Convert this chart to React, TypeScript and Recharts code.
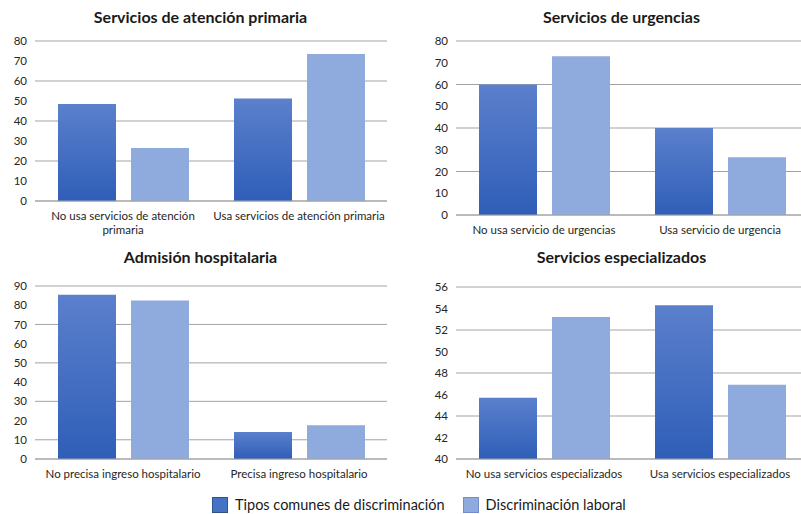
import React from "react";
import { Bar, BarChart, CartesianGrid, XAxis, YAxis } from "recharts";

const seriesNames = ["Tipos comunes de discriminación", "Discriminación laboral"];

const primariaCats = ["No usa servicios de atención primaria", "Usa servicios de atención primaria"];
const primariaComunes = [48.5, 51.2];
const primariaLaboral = [26.5, 73.5];

const urgenciasCats = ["No usa servicio de urgencias", "Usa servicio de urgencia"];
const urgenciasComunes = [60, 40];
const urgenciasLaboral = [73, 26.6];

const hospitalCats = ["No precisa ingreso hospitalario", "Precisa ingreso hospitalario"];
const hospitalComunes = [85.4, 14.1];
const hospitalLaboral = [82.5, 17.6];

const especialCats = ["No usa servicios especializados", "Usa servicios especializados"];
const especialComunes = [45.7, 54.3];
const especialLaboral = [53.2, 46.9];

const ticks80 = [0, 10, 20, 30, 40, 50, 60, 70, 80];
const ticks90 = [0, 10, 20, 30, 40, 50, 60, 70, 80, 90];
const ticks56 = [40, 42, 44, 46, 48, 50, 52, 54, 56];

const FONT = "Lato, 'Open Sans', sans-serif";
const TICK_SIZE = 11.5;
const DARK_TOP = "#5b80cc";
const DARK_BOTTOM = "#2f5eb8";
const LIGHT = "#8faadc";
const GRID = "#a3a3a3";

function build(cats: string[], a: number[], b: number[]) {
  return cats.map((name, i) => ({ name, comunes: a[i], laboral: b[i] }));
}

let ctx: CanvasRenderingContext2D | null = null;
function wrap(label: string, maxWidth: number): string[] {
  if (!ctx) ctx = document.createElement("canvas").getContext("2d");
  if (!ctx) return [label];
  ctx.font = `${TICK_SIZE}px ${FONT}`;
  const lines: string[] = [];
  let cur = "";
  for (const w of label.split(" ")) {
    const next = cur ? `${cur} ${w}` : w;
    if (cur && ctx.measureText(next).width > maxWidth) {
      lines.push(cur);
      cur = w;
    } else {
      cur = next;
    }
  }
  if (cur) lines.push(cur);
  return lines;
}

const WrapTick = (props: any) => {
  const { x, y, payload } = props;
  const lines = wrap(String(payload.value), 172);
  return (
    <text
      x={x}
      y={y}
      textAnchor="middle"
      fontSize={TICK_SIZE}
      fontFamily={FONT}
      fill="#262626"
    >
      {lines.map((l, i) => (
        <tspan key={i} x={x} dy={i === 0 ? "0.71em" : 14}>
          {l}
        </tspan>
      ))}
    </text>
  );
};

type PanelProps = {
  id: string;
  title: string;
  left: number;
  top: number;
  height: number;
  marginTop: number;
  xHeight: number;
  data: { name: string; comunes: number; laboral: number }[];
  domain: [number, number];
  ticks: number[];
};

function Panel({ id, title, left, top, height, marginTop, xHeight, data, domain, ticks }: PanelProps) {
  return (
    <div style={{ position: "absolute", left, top, width: 400, height }}>
      <div
        style={{
          position: "absolute",
          left: 0,
          width: 400,
          top: 7,
          textAlign: "center",
          fontFamily: FONT,
          fontWeight: 700,
          fontSize: 16,
          color: "#1a1a1a",
        }}
      >
        {title}
      </div>
      <BarChart
        width={400}
        height={height}
        data={data}
        margin={{ top: marginTop, right: 14, bottom: 0, left: 0 }}
        barSize={58}
        barGap={15}
      >
        <defs>
          <linearGradient id={`grad-${id}`} x1="0" y1="0" x2="0" y2="1">
            <stop offset="0%" stopColor={DARK_TOP} />
            <stop offset="100%" stopColor={DARK_BOTTOM} />
          </linearGradient>
        </defs>
        <CartesianGrid vertical={false} stroke={GRID} strokeWidth={1} />
        <XAxis
          dataKey="name"
          height={xHeight}
          tickLine={false}
          axisLine={{ stroke: GRID }}
          tickMargin={5}
          interval={0}
          tick={<WrapTick />}
        />
        <YAxis
          width={34}
          domain={domain}
          ticks={ticks}
          allowDataOverflow
          tickLine={false}
          axisLine={false}
          tick={{ fontSize: TICK_SIZE, fill: "#262626", fontFamily: FONT }}
        />
        <Bar dataKey="comunes" name={seriesNames[0]} fill={`url(#grad-${id})`} isAnimationActive={false} />
        <Bar dataKey="laboral" name={seriesNames[1]} fill={LIGHT} isAnimationActive={false} />
      </BarChart>
    </div>
  );
}

export default function App() {
  return (
    <div
      style={{
        position: "absolute",
        left: 0,
        top: 0,
        width: 801,
        height: 514,
        overflow: "hidden",
        background: "#fff",
      }}
    >
      <Panel
        id="p1"
        title="Servicios de atención primaria"
        left={0.5}
        top={0}
        height={240}
        marginTop={41}
        xHeight={39}
        data={build(primariaCats, primariaComunes, primariaLaboral)}
        domain={[0, 80]}
        ticks={ticks80}
      />
      <Panel
        id="p2"
        title="Servicios de urgencias"
        left={421.5}
        top={0}
        height={245}
        marginTop={41}
        xHeight={30}
        data={build(urgenciasCats, urgenciasComunes, urgenciasLaboral)}
        domain={[0, 80]}
        ticks={ticks80}
      />
      <Panel
        id="p3"
        title="Admisión hospitalaria"
        left={0.5}
        top={240}
        height={249}
        marginTop={46}
        xHeight={30}
        data={build(hospitalCats, hospitalComunes, hospitalLaboral)}
        domain={[0, 90]}
        ticks={ticks90}
      />
      <Panel
        id="p4"
        title="Servicios especializados"
        left={421.5}
        top={240}
        height={249}
        marginTop={47}
        xHeight={30}
        data={build(especialCats, especialComunes, especialLaboral)}
        domain={[40, 56]}
        ticks={ticks56}
      />
      <div
        style={{
          position: "absolute",
          top: 497,
          left: 212,
          height: 16,
          display: "flex",
          alignItems: "center",
          fontFamily: FONT,
          fontSize: 14.5,
          lineHeight: "16px",
          color: "#1a1a1a",
          whiteSpace: "nowrap",
        }}
      >
        <span
          style={{
            width: 16,
            height: 16,
            background: "#4472c4",
            border: "1px solid #2f528f",
            boxSizing: "border-box",
            marginRight: 7,
          }}
        />
        <span style={{ marginRight: 18 }}>{seriesNames[0]}</span>
        <span
          style={{
            width: 16,
            height: 16,
            background: LIGHT,
            border: "1px solid #6f8fc8",
            boxSizing: "border-box",
            marginRight: 7,
          }}
        />
        <span>{seriesNames[1]}</span>
      </div>
    </div>
  );
}
